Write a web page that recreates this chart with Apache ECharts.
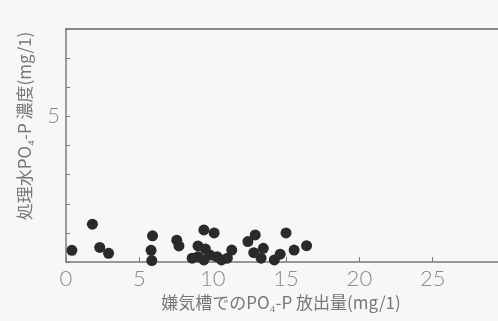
<!DOCTYPE html>
<html><head><meta charset="utf-8">
<script src="https://cdn.jsdelivr.net/npm/echarts@6/dist/echarts.min.js"></script>
<style>html,body{margin:0;padding:0;background:#f7f7f5;}#c{width:498px;height:321px;}</style>
</head><body><div id="c"></div>
<script>
const xTitle = '嫌気槽でのPO₄-P 放出量(mg/1)';
const yTitle = '処理水PO₄-P 濃度(mg/1)';
const xTickLabels = ['0','5','10','15','20','25'];
const yTickLabels = ['5'];
const releaseX = [0.4,1.8,2.3,2.9,5.9,5.8,5.85,7.55,7.7,9.4,10.1,9.0,9.5,8.6,9.0,9.4,9.8,10.3,10.6,11.0,11.3,12.4,12.9,12.8,13.45,13.3,14.2,14.6,15.0,15.55,16.4];
const effluentY = [0.4,1.3,0.5,0.3,0.9,0.4,0.05,0.75,0.55,1.1,1.0,0.55,0.45,0.13,0.18,0.07,0.24,0.18,0.07,0.13,0.41,0.7,0.93,0.32,0.47,0.13,0.07,0.27,1.0,0.41,0.56];
const pts = releaseX.map((x,i)=>[x,effluentY[i]]);
const axisCol = '#7a7a7a';
const labelFont = {color:'#8a8a8a', fontSize:22, fontFamily:'Lato', fontWeight:300};
const chart = echarts.init(document.getElementById('c'), null, {renderer:'canvas'});
chart.setOption({
  backgroundColor:'#f7f7f5',
  animation:false,
  grid:{left:66, top:29, right:0, bottom:59},
  xAxis:[{
    type:'value', min:0, max:29.45, interval:5,
    axisLine:{lineStyle:{color:axisCol, width:1.5}},
    axisTick:{inside:true, length:5, lineStyle:{color:axisCol}},
    axisLabel:Object.assign({margin:6, showMaxLabel:false, formatter:v=>xTickLabels.indexOf(String(v))>=0?String(v):''}, labelFont),
    splitLine:{show:false}
  },{
    type:'value', position:'top', min:0, max:29.45,
    axisLine:{show:true, lineStyle:{color:'#666', width:1.5}},
    axisTick:{show:false}, axisLabel:{show:false}, splitLine:{show:false}
  }],
  yAxis:{
    type:'value', min:0, max:8, interval:1,
    axisLine:{show:true, lineStyle:{color:axisCol, width:1.5}},
    axisTick:{show:true, inside:true, length:4, lineStyle:{color:axisCol}},
    axisLabel:Object.assign({margin:6, formatter:v=>yTickLabels.indexOf(String(v))>=0?String(v):''}, labelFont),
    splitLine:{show:false}
  },
  series:[{
    type:'scatter', data:pts, symbolSize:11,
    itemStyle:{color:'#2b2929', opacity:1}
  }],
  graphic:[
    {type:'text', x:281, y:303, style:{text:xTitle, fill:'#777', font:'17px "Noto Sans CJK JP"', textAlign:'center', textVerticalAlign:'middle'}},
    {type:'text', rotation:Math.PI/2, x:25, y:126, style:{text:yTitle, fill:'#777', font:'17px "Noto Sans CJK JP"', textAlign:'center', textVerticalAlign:'middle'}}
  ]
});
</script></body></html>
